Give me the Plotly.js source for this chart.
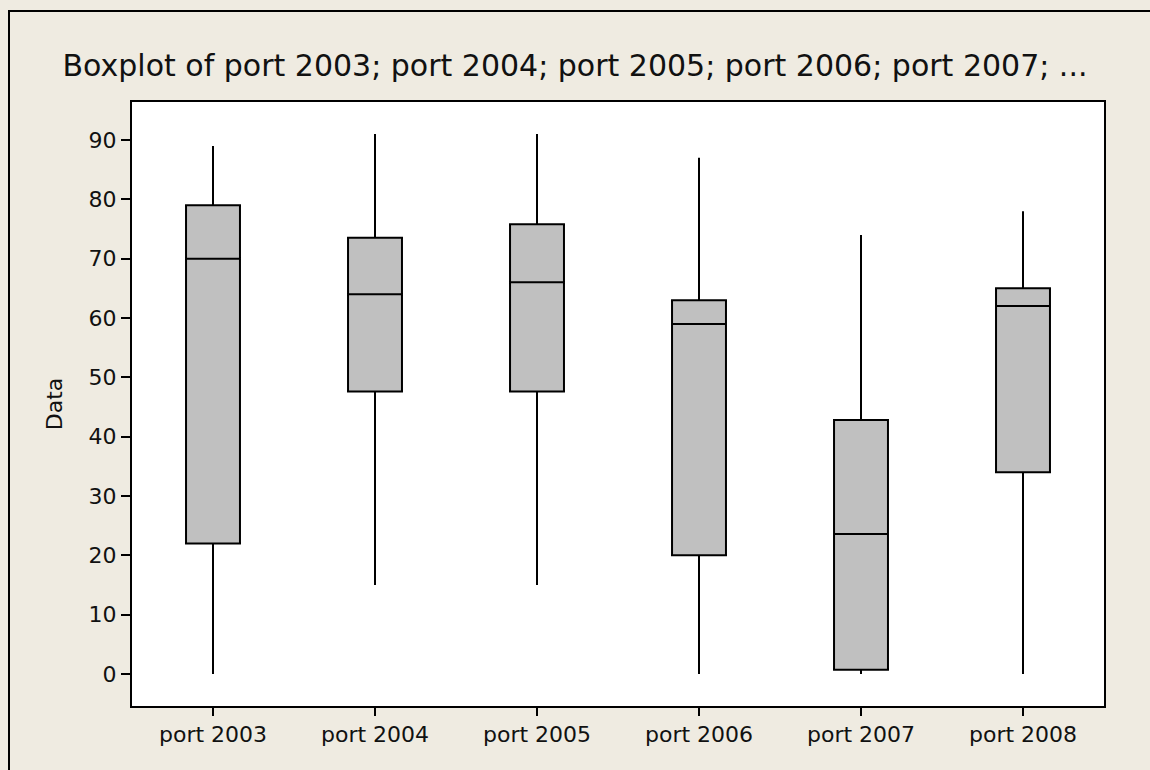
<!DOCTYPE html>
<html>
<head>
<meta charset="utf-8">
<script src="https://cdn.plot.ly/plotly-3.0.1.min.js"></script>
<style>
  html, body { margin: 0; padding: 0; background: #EFEBE1; }
  #chart { width: 1150px; height: 770px; }
</style>
</head>
<body>
<div id="chart"></div>
<script>
const categories = ["port 2003", "port 2004", "port 2005", "port 2006", "port 2007", "port 2008"];
const lowerWhisker = [0, 15, 15, 0, 0, 0];
const q1Values = [22, 47.6, 47.6, 20, 0.7, 34];
const medianValues = [70, 64, 66, 59, 23.6, 62];
const q3Values = [79, 73.5, 75.8, 63, 42.8, 65];
const upperWhisker = [89, 91, 91, 87, 74, 78];
const yTicks = [0, 10, 20, 30, 40, 50, 60, 70, 80, 90];
const titleText = "Boxplot of port 2003; port 2004; port 2005; port 2006; port 2007; ...";

const fontFamily = "DejaVu Sans, Verdana, sans-serif";

const trace = {
  type: "box",
  x: categories,
  q1: q1Values,
  median: medianValues,
  q3: q3Values,
  lowerfence: lowerWhisker,
  upperfence: upperWhisker,
  boxpoints: false,
  width: 0.333,
  whiskerwidth: 0,
  fillcolor: "#C0C0C0",
  line: { color: "#000000", width: 2 },
  hoverinfo: "none",
  showlegend: false
};

const W = 1150, H = 770;
const mL = 132, mT = 102, mR = 46, mB = 64;
const pw = W - mL - mR, ph = H - mT - mB;
const fx = (px) => (px - mL) / pw;
const fy = (py) => (H - mB - py) / ph;

const layout = {
  width: W,
  height: H,
  margin: { l: mL, r: mR, t: mT, b: mB, pad: 0 },
  paper_bgcolor: "#EFEBE1",
  plot_bgcolor: "#FFFFFF",
  font: { family: fontFamily, size: 22, color: "#111111" },
  title: {
    text: titleText,
    font: { family: fontFamily, size: 30, color: "#111111" },
    x: 0.5,
    xanchor: "center",
    xref: "container",
    y: 1 - 65 / H,
    yanchor: "middle"
  },
  xaxis: {
    type: "category",
    range: [-0.5, 5.5],
    showline: true,
    linecolor: "#000000",
    linewidth: 2,
    mirror: true,
    ticks: "outside",
    ticklen: 8,
    tickwidth: 2,
    tickcolor: "#000000",
    showgrid: false,
    zeroline: false,
    tickfont: { family: fontFamily, size: 22, color: "#111111" }
  },
  yaxis: {
    range: [-5.4, 96.4],
    tickvals: yTicks,
    showline: true,
    linecolor: "#000000",
    linewidth: 2,
    mirror: true,
    ticks: "outside",
    ticklen: 9,
    tickwidth: 2,
    tickcolor: "#000000",
    showgrid: false,
    zeroline: false,
    tickfont: { family: fontFamily, size: 22, color: "#111111" },
    title: { text: "Data", font: { family: fontFamily, size: 22, color: "#111111" }, standoff: 20 }
  },
  shapes: [
    {
      type: "path",
      xref: "paper",
      yref: "paper",
      path: `M ${fx(9)} ${fy(H + 20)} L ${fx(9)} ${fy(11)} L ${fx(W + 20)} ${fy(11)}`,
      line: { color: "#000000", width: 2 },
      layer: "above"
    }
  ]
};

Plotly.newPlot("chart", [trace], layout, { displayModeBar: false, staticPlot: true });
</script>
</body>
</html>
